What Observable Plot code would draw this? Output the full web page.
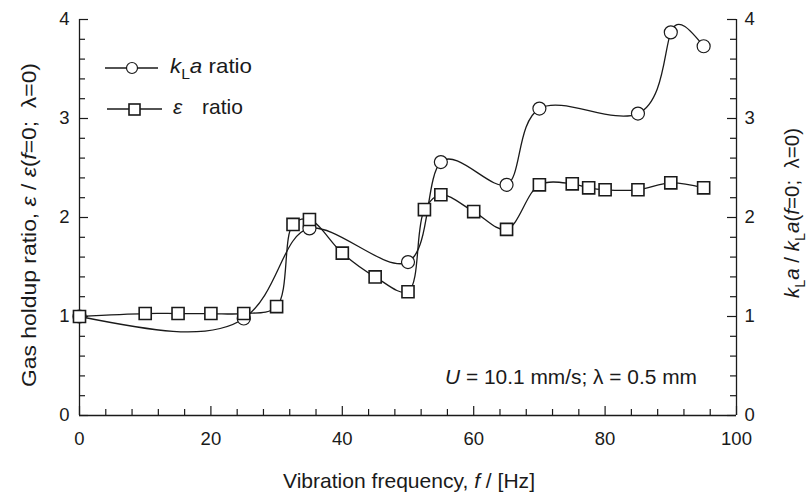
<!DOCTYPE html>
<html>
<head>
<meta charset="utf-8">
<script src="https://cdn.jsdelivr.net/npm/d3@7"></script>
<script src="https://cdn.jsdelivr.net/npm/@observablehq/plot@0.6"></script>
<style>
  html, body { margin: 0; padding: 0; background: white; }
  svg text { fill: #1a1a1a; }
</style>
</head>
<body>
<div id="chart"></div>
<script>
// k_L a ratio series
const freqKLa = [0, 25, 35, 50, 55, 65, 70, 85, 90, 95];
const kLaRatio = [1.00, 0.98, 1.89, 1.55, 2.56, 2.33, 3.10, 3.05, 3.87, 3.73];

// gas holdup (epsilon) ratio series
const freqEps = [0, 10, 15, 20, 25, 30, 32.5, 35, 40, 45, 50, 52.5, 55, 60, 65, 70, 75, 77.5, 80, 85, 90, 95];
const epsRatio = [1.00, 1.03, 1.03, 1.03, 1.03, 1.10, 1.93, 1.98, 1.64, 1.40, 1.25, 2.08, 2.23, 2.06, 1.88, 2.33, 2.34, 2.30, 2.28, 2.28, 2.35, 2.30];

// tick labels
const xTicks = [0, 20, 40, 60, 80, 100];
const yTicks = [0, 1, 2, 3, 4];
const xMinor = d3.range(0, 101, 4).filter(v => !xTicks.includes(v));
const yMinor = d3.range(0, 4.01, 0.2).map(v => +v.toFixed(1)).filter(v => !yTicks.includes(v));

const kla = freqKLa.map((f, i) => ({f, v: kLaRatio[i]}));
const eps = freqEps.map((f, i) => ({f, v: epsRatio[i]}));

const W = 809, H = 494, mL = 79, mR = 73, mT = 19, mB = 79;
const iW = W - mL - mR, iH = H - mT - mB;
const ink = "#1a1a1a";
const fontFam = "'Liberation Sans', Arial, sans-serif";

const chart = Plot.plot({
  width: W, height: H,
  marginLeft: mL, marginRight: mR, marginTop: mT, marginBottom: mB,
  x: {domain: [0, 100]},
  y: {domain: [0, 4]},
  style: {fontFamily: fontFam, fontSize: "18.5px", color: ink, background: "white"},
  marks: [
    Plot.ruleY([0], {stroke: ink, strokeWidth: 1.3}),
    Plot.ruleX([0], {stroke: ink, strokeWidth: 1.3}),
    Plot.ruleX([100], {stroke: ink, strokeWidth: 1.3}),
    Plot.tickX(xTicks, {x: d => d, insetTop: iH - 9, stroke: ink, strokeWidth: 1.2}),
    Plot.tickX(xMinor, {x: d => d, insetTop: iH - 6, stroke: ink, strokeWidth: 1.2}),
    Plot.tickY(yTicks, {y: d => d, insetRight: iW - 9, stroke: ink, strokeWidth: 1.2}),
    Plot.tickY(yMinor, {y: d => d, insetRight: iW - 6, stroke: ink, strokeWidth: 1.2}),
    Plot.tickY(yTicks, {y: d => d, insetLeft: iW - 9, stroke: ink, strokeWidth: 1.2}),
    Plot.tickY(yMinor, {y: d => d, insetLeft: iW - 6, stroke: ink, strokeWidth: 1.2}),
    Plot.axisX(xTicks, {tickSize: 0, tickPadding: 16, tickFormat: d3.format("d"), label: null}),
    Plot.axisY(yTicks, {anchor: "left", tickSize: 0, tickPadding: 10, tickFormat: d3.format("d"), label: null}),
    Plot.axisY(yTicks, {anchor: "right", tickSize: 0, tickPadding: 8, tickFormat: d3.format("d"), label: null}),
    Plot.line(kla, {x: "f", y: "v", curve: "natural", stroke: ink, strokeWidth: 1.3}),
    Plot.line(eps, {x: "f", y: "v", curve: "catmull-rom", stroke: ink, strokeWidth: 1.3}),
    Plot.dot(kla, {x: "f", y: "v", symbol: "circle", r: 6.5, fill: "white", stroke: ink, strokeWidth: 1.2}),
    Plot.dot(eps, {x: "f", y: "v", symbol: "square", r: 6.8, fill: "white", stroke: ink, strokeWidth: 1.6})
  ]
});

document.getElementById("chart").appendChild(chart);

const svg = d3.select(chart);

function addText(x, y, parts, opts = {}) {
  const t = svg.append("text")
    .attr("x", x).attr("y", y)
    .attr("font-family", fontFam)
    .attr("font-size", opts.size || 20)
    .attr("fill", ink)
    .attr("text-anchor", opts.anchor || "start")
    .attr("dominant-baseline", "middle");
  if (opts.length) t.attr("textLength", opts.length).attr("lengthAdjust", "spacingAndGlyphs");
  if (opts.rotate) t.attr("transform", `rotate(${opts.rotate},${x},${y})`);
  for (const p of parts) {
    const s = t.append("tspan").text(p.t);
    if (p.i) s.attr("font-style", "italic");
    if (p.sub) s.attr("baseline-shift", "sub").attr("font-size", (opts.size || 20) * 0.7);
  }
  return t;
}

// x-axis title
addText(409, 482, [{t: "Vibration frequency, "}, {t: "f", i: true}, {t: " / [Hz]"}], {anchor: "middle", size: 21, length: 252});
// left y-axis title
addText(30, 225, [{t: "Gas holdup ratio, "}, {t: "ε", i: true}, {t: " / "}, {t: "ε", i: true}, {t: "("}, {t: "f", i: true}, {t: "=0;  λ=0)"}], {anchor: "middle", rotate: -90, size: 21, length: 324});
// right y-axis title
addText(793, 213, [{t: "k", i: true}, {t: "L", sub: true}, {t: "a", i: true}, {t: " / "}, {t: "k", i: true}, {t: "L", sub: true}, {t: "a", i: true}, {t: "("}, {t: "f", i: true}, {t: "=0;  λ=0)"}], {anchor: "middle", rotate: -90, size: 21, length: 170});
// annotation
addText(697, 379, [{t: "U", i: true}, {t: " = 10.1 mm/s; λ = 0.5 mm"}], {anchor: "end", size: 20.5, length: 252});

// legend
const lg = svg.append("g");
lg.append("line").attr("x1", 105).attr("x2", 158).attr("y1", 68).attr("y2", 68).attr("stroke", ink).attr("stroke-width", 1.3);
lg.append("circle").attr("cx", 132).attr("cy", 68).attr("r", 5.5).attr("fill", "white").attr("stroke", ink).attr("stroke-width", 1.2);
lg.append("line").attr("x1", 107).attr("x2", 162).attr("y1", 109).attr("y2", 109).attr("stroke", ink).attr("stroke-width", 1.3);
lg.append("rect").attr("x", 129).attr("y", 104).attr("width", 11).attr("height", 11).attr("fill", "white").attr("stroke", ink).attr("stroke-width", 1.6);
addText(170, 67, [{t: "k", i: true}, {t: "L", sub: true}, {t: "a", i: true}, {t: " ratio"}], {size: 21, length: 82});
addText(173, 108, [{t: "ε", i: true}], {size: 21});
addText(202, 108, [{t: "ratio"}], {size: 21});
</script>
</body>
</html>
